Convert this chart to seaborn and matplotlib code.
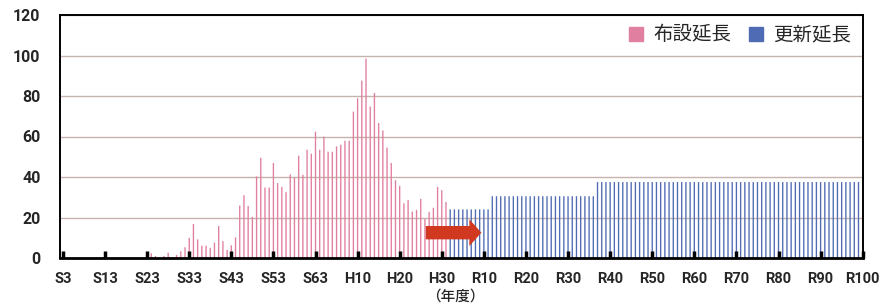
import numpy as np
import pandas as pd
import matplotlib
matplotlib.use("Agg")
import matplotlib.pyplot as plt
from matplotlib.patches import Patch
import seaborn as sns

# 布設延長 (1949 - 2019)
laid_years = list(range(1949, 2020))
laid_values = [2.3, 1.0, 0.0, 1.0, 2.6, 0.0, 1.5, 3.3, 5.3, 10.0,
               16.8, 9.2, 6.1, 6.1, 5.0, 7.6, 15.8, 8.3, 4.0, 6.3,
               10.2, 25.9, 31.0, 25.7, 20.3, 40.3, 49.5, 34.8, 34.8, 46.9,
               37.0, 35.1, 32.5, 41.3, 39.8, 50.5, 41.1, 53.5, 51.5, 62.4,
               53.5, 59.9, 52.5, 52.5, 55.1, 55.9, 57.9, 57.9, 72.3, 78.9,
               87.6, 98.5, 74.8, 81.5, 66.7, 63.0, 54.5, 46.9, 38.4, 35.6,
               27.0, 28.7, 22.9, 23.8, 29.2, 19.3, 22.8, 24.8, 35.1, 33.5,
               27.7]

# 更新延長: constant levels per period
renew_start = [2020, 2030, 2055]
renew_end = [2029, 2054, 2117]
renew_level = [24.0, 30.5, 37.5]

tick_years = [1928, 1938, 1948, 1958, 1968, 1978, 1988, 1998, 2008, 2018,
              2028, 2038, 2048, 2058, 2068, 2078, 2088, 2098, 2108, 2118]
tick_labels = ["S3", "S13", "S23", "S33", "S43", "S53", "S63", "H10", "H20", "H30",
               "R10", "R20", "R30", "R40", "R50", "R60", "R70", "R80", "R90", "R100"]

PINK = "#e07fa0"
BLUE = "#4f6bb3"

rows = [{"year": y, "value": v, "series": "布設延長"} for y, v in zip(laid_years, laid_values)]
for s, e, lv in zip(renew_start, renew_end, renew_level):
    for y in range(s, e + 1):
        rows.append({"year": y, "value": lv, "series": "更新延長"})
df = pd.DataFrame(rows)

sns.set_theme(style="white")
plt.rcParams["font.family"] = ["Roboto", "Noto Sans CJK JP", "DejaVu Sans"]

fig = plt.figure(figsize=(8.88, 3.06), dpi=100)
ax = fig.add_axes([60 / 888, 48 / 306, 802.7 / 888, 243 / 306])

sns.barplot(data=df, x="year", y="value", hue="series", native_scale=True,
            palette={"布設延長": PINK, "更新延長": BLUE}, dodge=False,
            saturation=1, width=0.32, linewidth=0, legend=False, ax=ax)
for bar in ax.patches:
    bar.set_snap(False)

ax.set_xlim(1927.3, 2118)
ax.set_ylim(0, 120)
ax.set_yticks([0, 20, 40, 60, 80, 100, 120])
ax.set_yticklabels(["0", "20", "40", "60", "80", "100", "120"],
                   fontsize=11.5, fontweight="bold")
ax.set_xticks(tick_years)
ax.set_xticklabels(tick_labels, fontsize=10.5, fontweight="bold")
ax.tick_params(axis="y", left=False, length=0, pad=14)
ax.tick_params(axis="x", bottom=True, direction="in", length=5, width=2.5,
               color="black", pad=10)
ax.set_xlabel("")
ax.set_ylabel("")

ax.grid(axis="y", color="#c4b3ae", linewidth=1)
ax.set_axisbelow(True)
for side in ["left", "top", "right"]:
    ax.spines[side].set_color("black")
    ax.spines[side].set_linewidth(1.4)
ax.spines["bottom"].set_color("black")
ax.spines["bottom"].set_linewidth(2)
ax.xaxis.set_zorder(3)

# red arrow
ax.arrow(2014.2, 12.5, 13.2 - 2.85, 0, width=6.6, head_width=13.2,
         head_length=2.85, length_includes_head=False,
         color="#d0381f", linewidth=0, zorder=5)

handles = [Patch(color=PINK), Patch(color=BLUE)]
ax.legend(handles, ["布設延長", "更新延長"], loc="center right",
          bbox_to_anchor=(0.9854, 0.918), ncol=2, frameon=False,
          prop={"family": ["Noto Sans CJK JP"], "size": 14},
          handlelength=0.75, handleheight=0.75, handletextpad=0.5,
          columnspacing=0.9, borderpad=0, borderaxespad=0)

fig.text(455 / 888, 1 - 297 / 306, "（年度）", ha="center", va="center",
         fontsize=10.5, fontweight="medium", family=["Noto Sans CJK JP"])

fig.savefig("out.png", dpi=100)
